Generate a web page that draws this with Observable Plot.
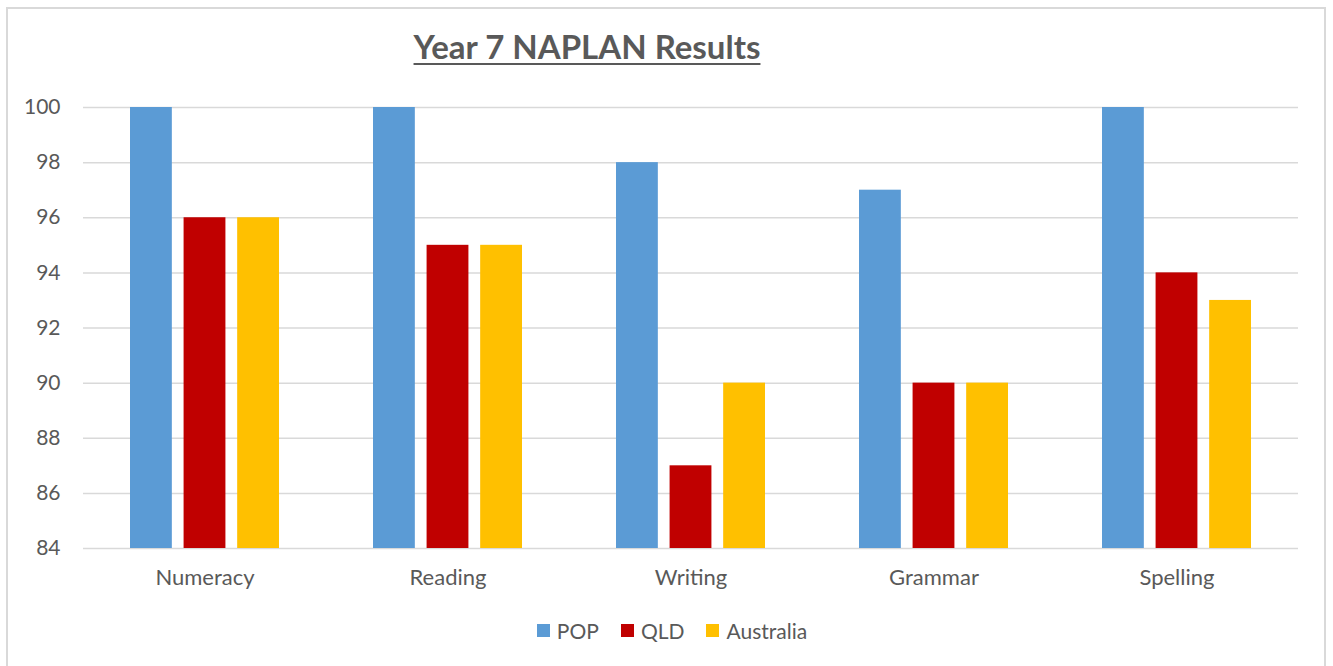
<!DOCTYPE html>
<html>
<head>
<meta charset="utf-8">
<script src="https://cdn.jsdelivr.net/npm/d3@7"></script>
<script src="https://cdn.jsdelivr.net/npm/@observablehq/plot@0.6"></script>
<style>
  html, body { margin: 0; padding: 0; background: #fff; }
  #frame { position: relative; width: 1333px; height: 666px; overflow: hidden; font-family: Lato, "Open Sans", sans-serif; }
  #border { position: absolute; left: 6px; top: 7px; width: 1320px; height: 700px; border: 2px solid #d9d9d9; box-sizing: border-box; }
  #title { position: absolute; left: 0; width: 1174px; top: 26px; text-align: center; font-size: 33px; font-weight: bold; color: #595959; text-decoration: underline; text-underline-offset: 4px; text-decoration-thickness: 2px; }
  #chart { position: absolute; left: 0; top: 0; }
  #legend { position: absolute; top: 618px; left: 0; width: 1344px; display: flex; justify-content: center; gap: 22px; font-size: 21px; color: #595959; }
  .item { display: flex; align-items: center; gap: 7px; }
  .sw { width: 13px; height: 13px; display: inline-block; }
</style>
</head>
<body>
<div id="frame">
  <div id="border"></div>
  <div id="title">Year 7 NAPLAN Results</div>
  <div id="chart"></div>
  <div id="legend"></div>
</div>
<script>
const categories = ["Numeracy", "Reading", "Writing", "Grammar", "Spelling"];
const seriesNames = ["POP", "QLD", "Australia"];
const seriesColors = ["#5b9bd5", "#c00000", "#ffc000"];
const popValues = [100, 100, 98, 97, 100];
const qldValues = [96, 95, 87, 90, 94];
const australiaValues = [96, 95, 90, 90, 93];
const yTicks = [84, 86, 88, 90, 92, 94, 96, 98, 100];
const yMin = 84, yMax = 100;

const allValues = [popValues, qldValues, australiaValues];

// layout of the three bars inside each category band
const plotWidth = 1333, marginLeft = 83, marginRight = 35;
const pInner = 0.387, pOuter = 0.19;
const step = (plotWidth - marginLeft - marginRight) / (categories.length - pInner + 2 * pOuter);
const band = step * (1 - pInner);
const barW = 42;
const inset = (band - barW) / 2;
const barStep = (band - barW) / 2;

const barMarks = seriesNames.map((s, j) =>
  Plot.barY(categories.map((c, i) => ({category: c, series: s, value: allValues[j][i]})), {
    x: "category", y1: yMin, y2: "value", fill: "series",
    insetLeft: inset, insetRight: inset, dx: (j - 1) * barStep
  })
);

const chart = Plot.plot({
  width: plotWidth,
  height: 600,
  marginLeft,
  marginRight,
  marginTop: 107,
  marginBottom: 52,
  style: {fontFamily: "Lato, 'Open Sans', sans-serif", fontSize: "19px", color: "#595959", background: "transparent"},
  x: {domain: categories, paddingInner: pInner, paddingOuter: pOuter, label: null},
  y: {domain: [yMin, yMax], ticks: yTicks, label: null},
  color: {domain: seriesNames, range: seriesColors},
  marks: [
    Plot.gridY(yTicks, {stroke: "#d9d9d9", strokeOpacity: 1, strokeWidth: 1.5}),
    ...barMarks,
    Plot.axisY(yTicks, {tickSize: 0, tickPadding: 23, fontSize: 21, fill: "#595959", label: null}),
    Plot.axisX({tickSize: 0, tickPadding: 21, fontSize: 22, fill: "#595959", label: null})
  ]
});
document.getElementById("chart").appendChild(chart);

const legend = document.getElementById("legend");
seriesNames.forEach((s, i) => {
  const it = document.createElement("div");
  it.className = "item";
  it.innerHTML = `<span class="sw" style="background:${seriesColors[i]}"></span><span>${s}</span>`;
  legend.appendChild(it);
});
</script>
</body>
</html>
